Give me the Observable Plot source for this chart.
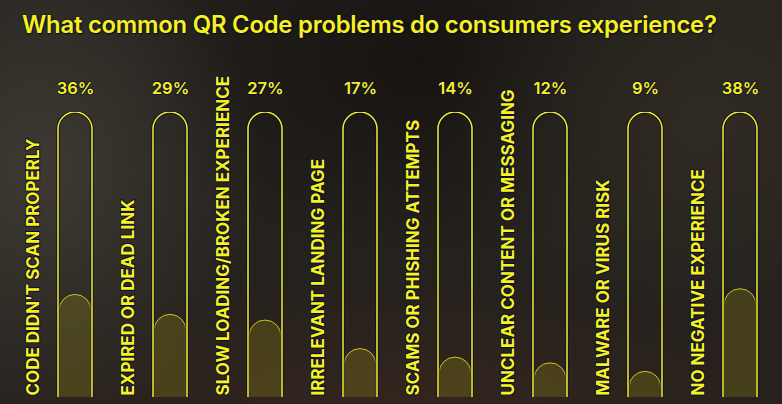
<!DOCTYPE html>
<html>
<head>
<meta charset="utf-8">
<script src="https://cdn.jsdelivr.net/npm/d3@7"></script>
<script src="https://cdn.jsdelivr.net/npm/@observablehq/plot@0.6"></script>
<style>
  html, body { margin: 0; padding: 0; }
  body {
    width: 782px; height: 404px; overflow: hidden;
    background:
      radial-gradient(ellipse 220px 260px at 40px 170px, rgba(70,66,58,0.75), rgba(70,66,58,0) 100%),
      radial-gradient(ellipse 260px 200px at 700px 120px, rgba(52,48,38,0.7), rgba(52,48,38,0) 100%),
      radial-gradient(ellipse 420px 120px at 400px 400px, rgba(60,40,30,0.6), rgba(60,40,30,0) 100%),
      radial-gradient(ellipse 300px 200px at 420px 60px, rgba(20,16,14,0.8), rgba(20,16,14,0) 100%),
      #25211d;
    font-family: Inter, "Noto Sans", sans-serif;
  }
  #title {
    height: 50px; box-sizing: border-box; padding: 10px 0 0 22px;
    color: #f6f21c; font-size: 23.8px; font-weight: 600; letter-spacing: -0.2px;
    text-shadow: 0 0 2px #0c0c30, 1px 1px 1px #0c0c30;
    white-space: nowrap;
  }
</style>
</head>
<body>
<div id="title">What common QR Code problems do consumers experience?</div>
<div id="chart"></div>
<script>
const categories = [
  "CODE DIDN'T SCAN PROPERLY",
  "EXPIRED OR DEAD LINK",
  "SLOW LOADING/BROKEN EXPERIENCE",
  "IRRELEVANT LANDING PAGE",
  "SCAMS OR PHISHING ATTEMPTS",
  "UNCLEAR CONTENT OR MESSAGING",
  "MALWARE OR VIRUS RISK",
  "NO NEGATIVE EXPERIENCE"
];
const values = [36, 29, 27, 17, 14, 12, 9, 38];
const fullScale = 100;

const data = categories.map((c, i) => ({category: c, value: values[i], full: fullScale}));
const yellow = "#f6f21c";
const halo = "#0d0d34";

const chart = Plot.plot({
  width: 782,
  height: 354,
  marginTop: 62,
  marginBottom: 7,
  marginLeft: 0,
  marginRight: 0,
  style: {background: "transparent", overflow: "visible"},
  x: {domain: categories, range: [26.43, 787.57], paddingInner: 0.643, paddingOuter: 0.3215, axis: null},
  y: {domain: [0, 100], axis: null},
  marks: [
    // fill capsule
    Plot.barY(data, {x: "category", y1: -20, y2: "value", rx: 16, insetLeft: 1, insetRight: 1,
      fill: "#e8dc10", fillOpacity: 0.16, clip: true}),
    Plot.barY(data, {x: "category", y1: -20, y2: "value", rx: 16, insetLeft: 1, insetRight: 1,
      fill: "none", stroke: yellow, strokeWidth: 1, strokeOpacity: 0.75, clip: true}),
    // outline capsule
    Plot.barY(data, {x: "category", y1: -20, y2: "full", rx: 17,
      fill: "none", stroke: halo, strokeWidth: 3.2, clip: true}),
    Plot.barY(data, {x: "category", y1: -20, y2: "full", rx: 17,
      fill: "none", stroke: yellow, strokeWidth: 1.5, clip: true}),
    // vertical category labels
    Plot.text(data, {x: "category", y: 0, text: "category", rotate: -90, textAnchor: "start",
      dx: -42, dy: -2, fill: yellow, stroke: halo, strokeWidth: 2, paintOrder: "stroke",
      fontSize: 17, fontWeight: 700, fontFamily: "Inter, sans-serif"}),
    // percentage labels
    Plot.text(data, {x: "category", y: "full", text: d => d.value + "%", dy: -24,
      fill: yellow, stroke: halo, strokeWidth: 1.5, paintOrder: "stroke",
      fontSize: 16.5, fontWeight: 600, fontFamily: "Inter, sans-serif"})
  ]
});
document.getElementById("chart").appendChild(chart);
</script>
</body>
</html>
